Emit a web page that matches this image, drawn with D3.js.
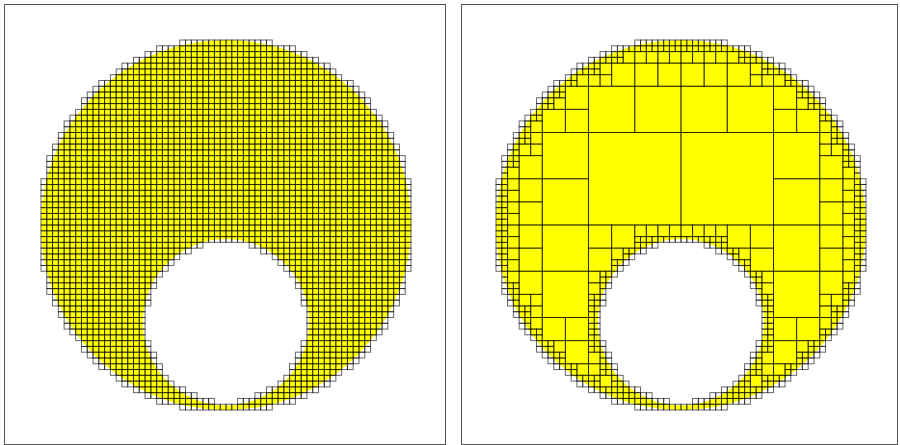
<!DOCTYPE html>
<html><head><meta charset="utf-8">
<script src="https://cdn.jsdelivr.net/npm/d3@7"></script>
<style>body{margin:0;background:#fff}svg{display:block}</style>
</head><body>
<svg id="chart" width="900" height="445"></svg>
<script>
// ---- data (unit coordinates, y grows downward) ----
const panelNames = ["uniform grid", "quadtree"];
const outerCircle = [0, 0, 1];          // cx, cy, r
const innerCircle = [0, 0.525, 0.45];   // cx, cy, r (hole)
const gridLevels = [6, 6];              // finest level: 2^6 = 64 cells per side
const panelModes = ["grid", "quadtree"];

// ---- layout ----
const panelBox = [[4.5, 4.5, 441, 440], [461.5, 4.5, 436, 440]];
const shapeCenter = [[226, 225], [681, 225]];
const shapeRadius = 185;

const svg = d3.select("#chart");

function classify(x0, y0, x1, y1) {
  const near = (c) => {
    const dx = Math.max(x0 - c[0], 0, c[0] - x1), dy = Math.max(y0 - c[1], 0, c[1] - y1);
    return Math.hypot(dx, dy);
  };
  const far = (c) => {
    const dx = Math.max(Math.abs(x0 - c[0]), Math.abs(x1 - c[0]));
    const dy = Math.max(Math.abs(y0 - c[1]), Math.abs(y1 - c[1]));
    return Math.hypot(dx, dy);
  };
  const nO = near(outerCircle), fO = far(outerCircle), nI = near(innerCircle), fI = far(innerCircle);
  if (nO >= outerCircle[2] || fI <= innerCircle[2]) return "out";
  if (fO <= outerCircle[2] && nI >= innerCircle[2]) return "in";
  return "edge";
}

function gridCells(level) {
  const n = Math.pow(2, level), s = 2 / n, cells = [];
  for (let i = 0; i < n; i++) for (let j = 0; j < n; j++) {
    const x0 = -1 + i * s, y0 = -1 + j * s;
    if (classify(x0, y0, x0 + s, y0 + s) !== "out") cells.push([x0, y0, s]);
  }
  return cells;
}

function quadCells(level) {
  const cells = [];
  (function rec(x0, y0, s, d) {
    const c = classify(x0, y0, x0 + s, y0 + s);
    if (c === "out") return;
    if (c === "in" || d === level) { cells.push([x0, y0, s]); return; }
    const h = s / 2;
    rec(x0, y0, h, d + 1); rec(x0 + h, y0, h, d + 1);
    rec(x0, y0 + h, h, d + 1); rec(x0 + h, y0 + h, h, d + 1);
  })(-1, -1, 2, 0);
  return cells;
}

panelNames.forEach((name, k) => {
  const [bx, by, bw, bh] = panelBox[k];
  const [cx, cy] = shapeCenter[k];
  const x = d3.scaleLinear().domain([-1, 1]).range([cx - shapeRadius, cx + shapeRadius]);
  const y = d3.scaleLinear().domain([-1, 1]).range([cy - shapeRadius, cy + shapeRadius]);
  const g = svg.append("g").attr("class", "panel").attr("aria-label", name);

  g.append("rect").attr("x", bx).attr("y", by).attr("width", bw).attr("height", bh)
    .attr("fill", "#fff").attr("stroke", "#555").attr("stroke-width", 1);

  const p = d3.path();
  const circ = (c) => {
    const r = x(c[0] + c[2]) - x(c[0]);
    p.moveTo(x(c[0]) + r, y(c[1]));
    p.arc(x(c[0]), y(c[1]), r, 0, 2 * Math.PI);
    p.closePath();
  };
  circ(outerCircle); circ(innerCircle);
  g.append("path").attr("d", p.toString()).attr("fill", "#ffff00").attr("fill-rule", "evenodd");

  const cells = panelModes[k] === "grid" ? gridCells(gridLevels[k]) : quadCells(gridLevels[k]);
  g.append("g").selectAll("rect").data(cells).join("rect")
    .attr("x", d => x(d[0])).attr("y", d => y(d[1]))
    .attr("width", d => x(d[0] + d[2]) - x(d[0]))
    .attr("height", d => y(d[1] + d[2]) - y(d[1]))
    .attr("fill", "none").attr("stroke", "#000").attr("stroke-opacity", 0.6).attr("stroke-width", 1);
});
</script>
</body></html>
